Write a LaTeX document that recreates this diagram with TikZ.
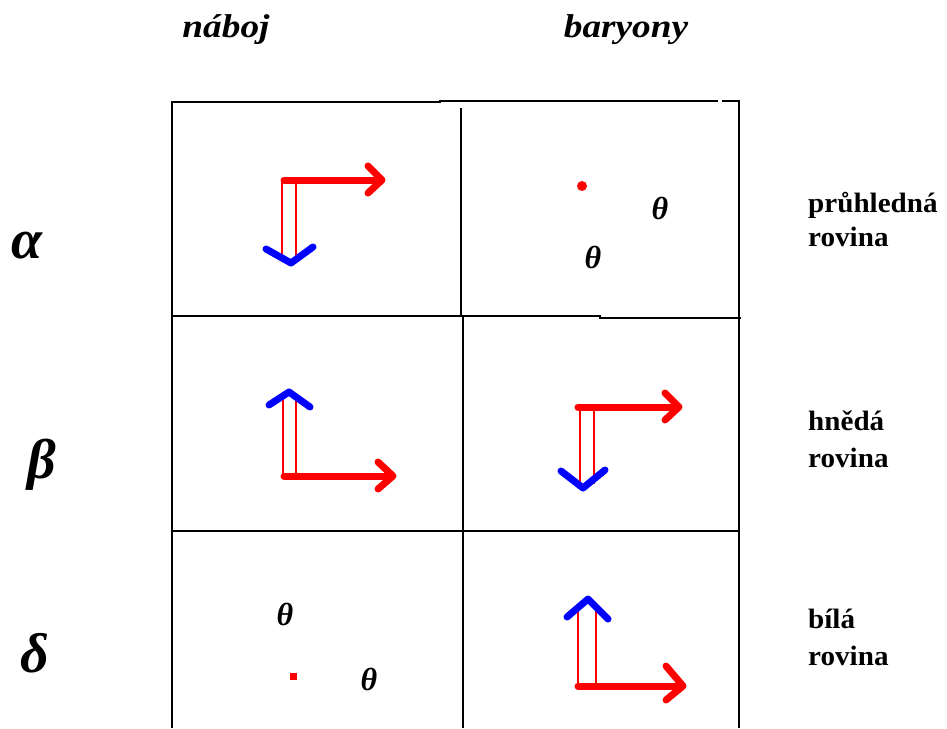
\documentclass[tikz,border=0pt]{standalone}
\usepackage{fontspec}
\usepackage{graphicx}
\setmainfont{Liberation Serif}
\begin{document}
\begin{tikzpicture}[x=1pt,y=-1pt,
  gridline/.style={black, line width=1.6pt},
  bigarrow/.style={red, line width=7pt, line cap=round, line join=round},
  thinred/.style={red, line width=1.3pt},
  bluehead/.style={blue, line width=7pt, line cap=round, line join=round},
  hdr/.style={font=\fontsize{33}{33}\selectfont\bfseries\itshape, inner sep=0, anchor=base},
  lbl/.style={font=\fontsize{28}{28}\selectfont\bfseries, inner sep=0, anchor=base west},
  greek/.style={font=\fontsize{56}{56}\selectfont\bfseries\itshape, inner sep=0, anchor=base},
  theta/.style={font=\fontsize{32}{32}\selectfont\bfseries\itshape, inner sep=0}]
\useasboundingbox (0,0) rectangle (947,728);
% headers
\node[hdr] (naboj) at (226,37) {\scalebox{1.13}[1]{náboj}};
\node[hdr] (baryony) at (626,37) {\scalebox{1.13}[1]{baryony}};
% greek
\node[greek] (alpha) at (27,258) {α};
\node[greek] (beta) at (42,478) {β};
\node[greek] (delta) at (35,672) {δ};
% right labels
\node[lbl] (l1a) at (808,212) {\scalebox{1.04}[1]{průhledná}};
\node[lbl] (l1b) at (808,246) {\scalebox{1.04}[1]{rovina}};
\node[lbl] (l2a) at (808,430) {\scalebox{1.04}[1]{hnědá}};
\node[lbl] (l2b) at (808,467) {\scalebox{1.04}[1]{rovina}};
\node[lbl] (l3a) at (808,628) {\scalebox{1.04}[1]{bílá}};
\node[lbl] (l3b) at (808,665) {\scalebox{1.04}[1]{rovina}};
% grid
\draw[gridline] (172,728) -- (172,102) -- (440,102) -- (440,101) -- (718,101);
\draw[gridline] (722,101) -- (739,101) -- (739,728);
\draw[gridline] (461,108) -- (461,316);
\draw[gridline] (463,316) -- (463,728);
\draw[gridline] (172,316) -- (600,316) -- (600,318) -- (741,318);
\draw[gridline] (172,531) -- (739,531);
% cell alpha / naboj
\draw[thinred] (282,181) -- (282,262);
\draw[thinred] (296,181) -- (296,262);
\draw[bigarrow] (284,180) -- (381,180);
\draw[bigarrow] (368,166) -- (382,180) -- (368,193);
\draw[bluehead] (266,249) -- (291,263) -- (313,247);
% cell alpha / baryony
\fill[red] (582,186) circle (5);
\node[theta] (t1) at (660,208) {θ};
\node[theta] (t2) at (593,257) {θ};
% cell beta / naboj
\draw[thinred] (283,400) -- (283,476);
\draw[thinred] (296,400) -- (296,476);
\draw[bluehead] (269,405) -- (289,392) -- (310,407);
\draw[bigarrow] (284,476) -- (392,476);
\draw[bigarrow] (378,462) -- (393,476) -- (378,489);
% cell beta / baryony
\draw[thinred] (580,408) -- (580,484);
\draw[thinred] (594,408) -- (594,484);
\draw[bigarrow] (578,407) -- (678,407);
\draw[bigarrow] (665,393) -- (679,407) -- (665,420);
\draw[bluehead] (561,471) -- (583,488) -- (605,470);
% cell delta / naboj
\node[theta] (t3) at (285,614) {θ};
\fill[red] (290,673) rectangle (297,680);
\node[theta] (t4) at (369,679) {θ};
% cell delta / baryony
\draw[thinred] (578,605) -- (578,685);
\draw[thinred] (596,605) -- (596,685);
\draw[bluehead] (567,617) -- (588,599) -- (608,619);
\draw[bigarrow] (578,686) -- (682,686);
\draw[bigarrow] (666,666) -- (683,686) -- (666,700);
\end{tikzpicture}
\end{document}
